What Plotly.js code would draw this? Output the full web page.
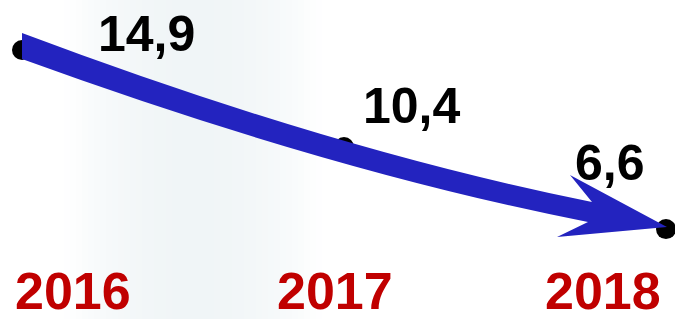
<!DOCTYPE html>
<html>
<head>
<meta charset="utf-8">
<script src="https://cdn.plot.ly/plotly-3.0.1.min.js"></script>
<style>html,body{margin:0;padding:0;background:#fff;}#chart{width:675px;height:319px;}</style>
</head>
<body>
<div id="chart"></div>
<script>
// Data
var years = [2016, 2017, 2018];
var values = [14.9, 10.4, 6.6];
var valueLabels = ['14,9', '10,4', '6,6'];
var yearLabels = ['2016', '2017', '2018'];

var W = 675, H = 319;
function px(x){ return x / W; }
function py(y){ return 1 - y / H; }
function P(x, y){ return px(x).toFixed(4) + ',' + py(y).toFixed(4); }

// label offsets (pixels) relative to each point
var labelShift = [{dx:125, dy:16}, {dx:68, dy:41}, {dx:-56, dy:66}];
// year label horizontal offsets (pixels) relative to each point
var yearShift = [51, -9, -63];

var annotations = [];
for (var i = 0; i < years.length; i++) {
  annotations.push({
    x: years[i], y: values[i], xref: 'x', yref: 'y',
    text: '<b>' + valueLabels[i] + '</b>', showarrow: false,
    xshift: labelShift[i].dx, yshift: labelShift[i].dy,
    font: {family: 'Liberation Sans, Arial, sans-serif', size: 50, color: '#000'}
  });
  annotations.push({
    x: years[i], y: 0, xref: 'x', yref: 'paper', yanchor: 'bottom',
    text: '<b>' + yearLabels[i] + '</b>', showarrow: false,
    xshift: yearShift[i], yshift: -3,
    font: {family: 'Liberation Sans, Arial, sans-serif', size: 52, color: '#C00000'}
  });
}

var arrowPath = 'M ' + P(22,33) + ' Q ' + P(333,150) + ' ' + P(592,202) +
  ' L ' + P(570,175) + ' L ' + P(667,227) + ' L ' + P(557,237) + ' L ' + P(588,222) +
  ' Q ' + P(333,172) + ' ' + P(22,59) + ' Z';

// subtle background sheen (decoration)
var shapes = [];
for (var s = 40; s < 340; s += 6) {
  var t = (s - 190) / 130;
  var a = Math.max(0, 1 - t * t) * 0.55;
  shapes.push({type:'rect', xref:'paper', yref:'paper', x0:px(s), x1:px(s+6), y0:0, y1:1,
    fillcolor:'rgba(228,237,240,' + a.toFixed(3) + ')', line:{width:0}, layer:'below'});
}
shapes.push({type:'path', xref:'paper', yref:'paper', path: arrowPath,
  fillcolor:'#2323BF', line:{width:0}, layer:'above'});

var trace = {
  x: years, y: values, mode: 'markers', type: 'scatter',
  marker: {color: '#000', size: 20}, hoverinfo: 'none', cliponaxis: false
};

var layout = {
  width: W, height: H,
  margin: {l:0, r:0, t:0, b:0},
  paper_bgcolor: '#fff', plot_bgcolor: 'rgba(0,0,0,0)',
  showlegend: false,
  xaxis: {range: [2015.9317, 2018.028], visible: false, fixedrange: true},
  yaxis: {range: [2.43, 17.22], visible: false, fixedrange: true},
  annotations: annotations,
  shapes: shapes
};

Plotly.newPlot('chart', [trace], layout, {displayModeBar: false, staticPlot: true});
</script>
</body>
</html>
